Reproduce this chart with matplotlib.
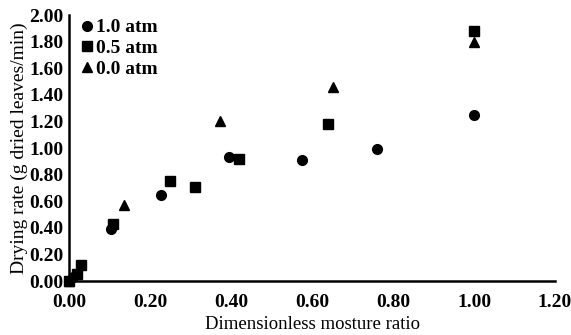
import matplotlib
matplotlib.use('Agg')
import matplotlib.pyplot as plt

# data
x_10 = [0.00, 0.01, 0.104, 0.226, 0.396, 0.574, 0.760, 1.00]
y_10 = [0.00, 0.03, 0.39, 0.65, 0.93, 0.91, 0.99, 1.25]

x_05 = [0.00, 0.02, 0.03, 0.108, 0.249, 0.310, 0.420, 0.640, 1.00]
y_05 = [0.00, 0.05, 0.12, 0.43, 0.75, 0.71, 0.92, 1.18, 1.88]

x_00 = [0.00, 0.135, 0.372, 0.652, 1.00]
y_00 = [0.00, 0.57, 1.20, 1.46, 1.80]

xticks = [0.0, 0.2, 0.4, 0.6, 0.8, 1.0, 1.2]
yticks = [0.0, 0.2, 0.4, 0.6, 0.8, 1.0, 1.2, 1.4, 1.6, 1.8, 2.0]

plt.rcParams['font.family'] = ['Liberation Serif', 'DejaVu Serif']

fig = plt.figure(figsize=(5.71, 3.35), dpi=100)
ax = fig.add_axes([0.121, 0.161, 0.851, 0.794])

ax.plot(x_10, y_10, 'o', color='black', markersize=7, label='1.0 atm', clip_on=False)
ax.plot(x_05, y_05, 's', color='black', markersize=7, label='0.5 atm', clip_on=False)
ax.plot(x_00, y_00, '^', color='black', markersize=7.5, label='0.0 atm', clip_on=False)

ax.set_xlim(0, 1.2)
ax.set_ylim(0, 2.0)
ax.set_xticks(xticks)
ax.set_yticks(yticks)
ax.set_xticklabels([f'{v:.2f}' for v in xticks], fontweight='bold', fontsize=14)
ax.set_yticklabels([f'{v:.2f}' for v in yticks], fontweight='bold', fontsize=14)
ax.tick_params(axis='y', length=0, pad=4)
ax.tick_params(axis='x', length=0, pad=9)

for s in ['top', 'right']:
    ax.spines[s].set_visible(False)
for s in ['left', 'bottom']:
    ax.spines[s].set_linewidth(1.8)

ax.set_xlabel('Dimensionless mosture ratio', fontsize=13.5, labelpad=4)
ax.set_ylabel('Drying rate (g dried leaves/min)', fontsize=14, labelpad=1)

ax.legend(loc='upper left', frameon=False, handletextpad=0.0, handlelength=1.0,
          borderaxespad=0.0, labelspacing=0.15, bbox_to_anchor=(0.0, 1.015),
          prop={'weight': 'bold', 'size': 14})

fig.savefig('out.png', dpi=100)
